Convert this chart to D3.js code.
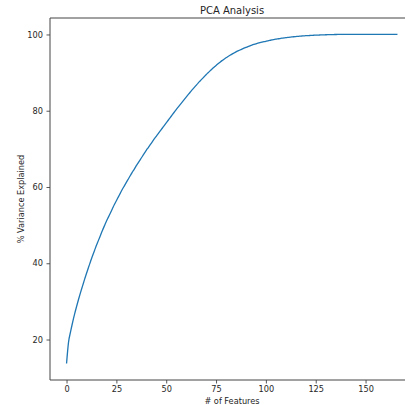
<!DOCTYPE html>
<html>
<head>
<meta charset="utf-8">
<script src="https://cdn.jsdelivr.net/npm/d3@7"></script>
<style>
html,body{margin:0;padding:0;background:#fff;overflow:hidden;}
svg{display:block;font-family:"DejaVu Sans",sans-serif;}
</style>
</head>
<body>
<svg id="chart" width="405" height="405"></svg>
<script>
const title = "PCA Analysis";
const xLabel = "# of Features";
const yLabel = "% Variance Explained";
const xTicks = [0, 25, 50, 75, 100, 125, 150];
const yTicks = [20, 40, 60, 80, 100];
const variance = [
  13.7, 19.3, 22.0, 24.4, 26.6, 28.6, 30.5, 32.3, 34.0, 35.7,
  37.3, 38.9, 40.4, 41.9, 43.3, 44.7, 46.0, 47.3, 48.6, 49.8,
  51.0, 52.1, 53.2, 54.3, 55.4, 56.4, 57.4, 58.4, 59.4, 60.3,
  61.2, 62.1, 63.0, 63.9, 64.7, 65.6, 66.4, 67.2, 68.0, 68.8,
  69.6, 70.35, 71.1, 71.85, 72.6, 73.3, 74.0, 74.7, 75.4, 76.1,
  76.8, 77.5, 78.2, 78.9, 79.6, 80.3, 80.95, 81.6, 82.25, 82.9,
  83.55, 84.2, 84.85, 85.45, 86.05, 86.65, 87.25, 87.8, 88.35, 88.9,
  89.45, 89.95, 90.45, 90.95, 91.42, 91.88, 92.32, 92.74, 93.14, 93.52,
  93.88, 94.22, 94.54, 94.85, 95.14, 95.42, 95.68, 95.93, 96.17, 96.4,
  96.62, 96.83, 97.03, 97.22, 97.39, 97.55, 97.7, 97.84, 97.97, 98.09,
  98.21, 98.33, 98.44, 98.55, 98.65, 98.75, 98.84, 98.93, 99.01, 99.08,
  99.15, 99.22, 99.28, 99.34, 99.40, 99.45, 99.50, 99.55, 99.59, 99.63,
  99.67, 99.70, 99.73, 99.76, 99.79, 99.82, 99.84, 99.86, 99.88, 99.90,
  99.92, 99.94, 99.95, 99.97, 99.98, 99.99, 100, 100, 100, 100,
  100, 100, 100, 100, 100, 100, 100, 100, 100, 100,
  100, 100, 100, 100, 100, 100, 100, 100, 100, 100,
  100, 100, 100, 100, 100, 100, 100
];
const features = variance.map((_, i) => i);

const svg = d3.select("#chart");
const L = 50, T = 18, B = 380, R = 414;
const n = features.length - 1;
const xMin = 0, xMax = n;
const xPad = (xMax - xMin) * 0.05;
const yMin = d3.min(variance), yMax = d3.max(variance);
const yPad = (yMax - yMin) * 0.05;

const x = d3.scaleLinear().domain([xMin - xPad, xMax + xPad]).range([L, R]);
const y = d3.scaleLinear().domain([yMin - yPad, yMax + yPad]).range([B, T]);

const textColor = "#262626";
const spineColor = "#444";

// line
svg.append("path")
  .datum(features)
  .attr("fill", "none")
  .attr("stroke", "#1f77b4")
  .attr("stroke-width", 1.3)
  .attr("stroke-linejoin", "round")
  .attr("d", d3.line().curve(d3.curveMonotoneX).x(i => x(i)).y(i => y(variance[i])));

// axes
const xAxis = svg.append("g").attr("transform", `translate(0,${B})`)
  .call(d3.axisBottom(x).tickValues(xTicks).tickSize(3.5).tickPadding(3).tickFormat(d3.format("d")));
const yAxis = svg.append("g").attr("transform", `translate(${L},0)`)
  .call(d3.axisLeft(y).tickValues(yTicks).tickSize(3.5).tickPadding(3.5).tickFormat(d3.format("d")));
[xAxis, yAxis].forEach(g => {
  g.select(".domain").remove();
  g.selectAll(".tick line").attr("stroke", spineColor).attr("stroke-width", 0.9);
  g.selectAll(".tick text").attr("fill", textColor).attr("font-size", 8.2)
    .attr("font-family", "DejaVu Sans, sans-serif");
});

// spines
svg.append("line").attr("x1", L).attr("x2", L).attr("y1", T).attr("y2", B)
  .attr("stroke", spineColor).attr("stroke-width", 1);
svg.append("line").attr("x1", L).attr("x2", R).attr("y1", B).attr("y2", B)
  .attr("stroke", spineColor).attr("stroke-width", 1);
svg.append("line").attr("x1", L).attr("x2", R).attr("y1", T).attr("y2", T)
  .attr("stroke", spineColor).attr("stroke-width", 1);
svg.append("line").attr("x1", R).attr("x2", R).attr("y1", T).attr("y2", B)
  .attr("stroke", spineColor).attr("stroke-width", 1);

// title & labels
svg.append("text").attr("x", (L + R) / 2).attr("y", 13.5)
  .attr("text-anchor", "middle").attr("font-size", 10).attr("fill", textColor).text(title);
svg.append("text").attr("x", (L + R) / 2).attr("y", 404)
  .attr("text-anchor", "middle").attr("font-size", 8.2).attr("fill", textColor).text(xLabel);
svg.append("text").attr("transform", `translate(23.5,${(T + B) / 2}) rotate(-90)`)
  .attr("text-anchor", "middle").attr("font-size", 8.2).attr("fill", textColor).text(yLabel);
</script>
</body>
</html>
